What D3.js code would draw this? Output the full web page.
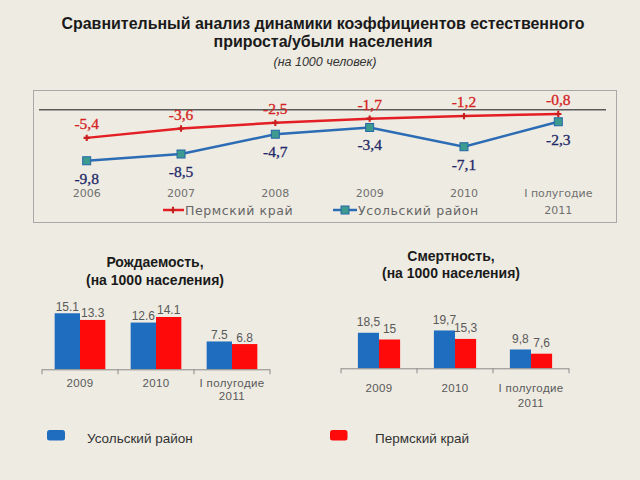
<!DOCTYPE html>
<html><head><meta charset="utf-8">
<script src="https://cdn.jsdelivr.net/npm/d3@7"></script>
<style>html,body{margin:0;padding:0;background:#EEEBE2;}svg{display:block;}</style>
</head><body>
<svg id="c" width="640" height="480"></svg>
<script>
// ---- data ----
const lineCats = ["2006","2007","2008","2009","2010","I полугодие|2011"];
const permLine = [-5.4,-3.6,-2.5,-1.7,-1.2,-0.8];
const usolLine = [-9.8,-8.5,-4.7,-3.4,-7.1,-2.3];
const lineLabelsPerm = ["-5,4","-3,6","-2,5","-1,7","-1,2","-0,8"];
const lineLabelsUsol = ["-9,8","-8,5","-4,7","-3,4","-7,1","-2,3"];

const barCats = ["2009","2010","I полугодие|2011"];
const birthUsol = [15.1,12.6,7.5];
const birthPerm = [13.3,14.1,6.8];
const birthLabelsUsol = ["15.1","12.6","7.5"];
const birthLabelsPerm = ["13.3","14.1","6.8"];
const deathUsol = [18.5,19.7,9.8];
const deathPerm = [15,15.3,7.6];
const deathLabelsUsol = ["18,5","19,7","9,8"];
const deathLabelsPerm = ["15","15,3","7,6"];
const seriesNames = ["Усольский район","Пермский край"];

const BLUE="#1E6DBE", RED="#FF0A0A";
const svg = d3.select("#c");

// ---- title ----
const tt = svg.append("g").attr("font-family","Liberation Sans, Arial, sans-serif").attr("text-anchor","middle");
tt.append("text").attr("x",323).attr("y",28.5).attr("font-size",16).attr("font-weight","bold").attr("fill","#1a1a1a")
  .attr("textLength",523).attr("lengthAdjust","spacingAndGlyphs")
  .text("Сравнительный анализ динамики коэффициентов естественного");
tt.append("text").attr("x",323).attr("y",46.5).attr("font-size",16).attr("font-weight","bold").attr("fill","#1a1a1a")
  .attr("textLength",219).attr("lengthAdjust","spacingAndGlyphs")
  .text("прироста/убыли населения");
tt.append("text").attr("x",325).attr("y",66).attr("font-size",12.5).attr("font-style","italic").attr("fill","#333")
  .text("(на 1000 человек)");

// ---- line chart ----
svg.append("rect").attr("x",33.5).attr("y",90.5).attr("width",583).attr("height",132)
  .attr("fill","none").attr("stroke","#A8A8A8").attr("stroke-width",1);
const xL = d3.scalePoint().domain(lineCats).range([86.7,558.3]);
const yL = d3.scaleLinear().domain([-10,0]).range([161.8,109.8]);
svg.append("line").attr("x1",39).attr("x2",606).attr("y1",yL(0)).attr("y2",yL(0))
  .attr("stroke","#5a5a5a").attr("stroke-width",1.5);

const lineGen = d3.line().x((d,i)=>xL(lineCats[i])).y(d=>yL(d));
svg.append("path").datum(permLine).attr("d",lineGen).attr("fill","none").attr("stroke","#E31E24").attr("stroke-width",2.5);
svg.append("path").datum(usolLine).attr("d",lineGen).attr("fill","none").attr("stroke","#2B6CB5").attr("stroke-width",2.5);

const cross = d3.symbol().type(d3.symbolCross).size(22);
svg.append("g").selectAll("path").data(permLine).join("path")
  .attr("d",cross).attr("transform",(d,i)=>`translate(${xL(lineCats[i])},${yL(d)})`).attr("fill","#C81E1E");
svg.append("g").selectAll("rect").data(usolLine).join("rect")
  .attr("x",(d,i)=>xL(lineCats[i])-4).attr("y",d=>yL(d)-4).attr("width",8).attr("height",8)
  .attr("fill","#3D9A8E").attr("stroke","#2467A8").attr("stroke-width",1);

const lblG = svg.append("g").attr("font-family","Liberation Serif, Times New Roman, serif").attr("font-size",15.5).attr("text-anchor","middle");
lblG.selectAll("text.p").data(permLine).join("text").attr("class","p")
  .attr("x",(d,i)=>xL(lineCats[i])).attr("y",d=>yL(d)-9).attr("fill","#D42323")
  .attr("stroke","#D42323").attr("stroke-width",0.3)
  .text((d,i)=>lineLabelsPerm[i]);
lblG.selectAll("text.u").data(usolLine).join("text").attr("class","u")
  .attr("x",(d,i)=>xL(lineCats[i])).attr("y",d=>yL(d)+23).attr("fill","#1F2868")
  .attr("stroke","#1F2868").attr("stroke-width",0.3)
  .text((d,i)=>lineLabelsUsol[i]);

const catG = svg.append("g").attr("font-family","DejaVu Sans, sans-serif").attr("font-size",11).attr("fill","#707070").attr("text-anchor","middle");
lineCats.forEach(c=>{
  const parts=c.split("|");
  parts.forEach((p,j)=>catG.append("text").attr("x",xL(c)).attr("y",197+j*17).text(p));
});

// legend of line chart
const lg = svg.append("g").attr("font-family","DejaVu Sans, sans-serif").attr("font-size",12.5).attr("fill","#666").attr("letter-spacing",0.6);
lg.append("line").attr("x1",163).attr("x2",184).attr("y1",210).attr("y2",210).attr("stroke","#E31E24").attr("stroke-width",2.5);
lg.append("path").attr("d",cross).attr("transform","translate(173,210)").attr("fill","#C81E1E");
lg.append("text").attr("x",185).attr("y",214.5).text(seriesNames[1]);
lg.append("line").attr("x1",333).attr("x2",357).attr("y1",210).attr("y2",210).attr("stroke","#2B6CB5").attr("stroke-width",2.5);
lg.append("rect").attr("x",341).attr("y",206).attr("width",8).attr("height",8).attr("fill","#3D9A8E").attr("stroke","#2467A8");
lg.append("text").attr("x",358).attr("y",214.5).text(seriesNames[0]);

// ---- bar charts ----
function barChart(opt){
  const g = svg.append("g");
  const x0 = d3.scaleBand().domain(barCats).range([opt.x0,opt.x1]).paddingInner(0).paddingOuter(0);
  const x1 = d3.scaleBand().domain([0,1]).range([0,x0.bandwidth()]).paddingInner(0).paddingOuter(opt.pad);
  const y = d3.scaleLinear().domain([0,20]).range([opt.base,opt.base-20*opt.k]);
  const data = [];
  barCats.forEach((c,i)=>{
    data.push({c,s:0,v:opt.u[i],l:opt.ul[i]});
    data.push({c,s:1,v:opt.p[i],l:opt.pl[i]});
  });
  g.selectAll("rect").data(data).join("rect")
    .attr("x",d=>x0(d.c)+x1(d.s)).attr("width",x1.bandwidth())
    .attr("y",d=>y(d.v)).attr("height",d=>y(0)-y(d.v))
    .attr("fill",d=>d.s?RED:BLUE);
  g.selectAll("text.v").data(data).join("text").attr("class","v")
    .attr("x",d=>x0(d.c)+x1(d.s)+x1.bandwidth()/2).attr("y",d=>y(d.v)-opt.lo)
    .attr("text-anchor","middle").attr("font-family","Liberation Sans, Arial, sans-serif")
    .attr("font-size",12).attr("fill","#595959").text(d=>d.l);
  // axis
  const ax = g.append("g").attr("transform",`translate(0,${opt.base})`)
    .call(d3.axisBottom(x0).tickSize(0).tickFormat(""));
  ax.select(".domain").attr("stroke","#8a8a8a").attr("d",`M${opt.x0},0.5H${opt.x1}`);
  const bounds = barCats.map(c=>x0(c)).concat([opt.x1]);
  g.selectAll("line.t").data(bounds).join("line").attr("class","t")
    .attr("x1",d=>d).attr("x2",d=>d).attr("y1",opt.base).attr("y2",opt.base+5).attr("stroke","#8a8a8a");
  const cg = g.append("g").attr("font-family","Liberation Sans, Arial, sans-serif").attr("font-size",11.5)
    .attr("fill","#595959").attr("text-anchor","middle").attr("letter-spacing",0.4);
  barCats.forEach(c=>{
    c.split("|").forEach((p,j)=>cg.append("text").attr("x",x0(c)+x0.bandwidth()/2).attr("y",opt.cy+j*opt.cdy).text(p));
  });
  const tg = g.append("g").attr("font-family","Liberation Sans, Arial, sans-serif").attr("font-size",14)
    .attr("font-weight","bold").attr("fill","#1a1a1a").attr("text-anchor","middle");
  opt.title.forEach((t,j)=>tg.append("text").attr("x",opt.tx).attr("y",opt.ty[j]).text(t));
}
barChart({x0:42,x1:270,base:369.3,k:3.71,pad:0.5,u:birthUsol,p:birthPerm,ul:birthLabelsUsol,pl:birthLabelsPerm,
  lo:2.5,cy:387,cdy:13,title:["Рождаемость,","(на 1000 населения)"],tx:155,ty:[267,285]});
barChart({x0:341,x1:569,base:368.3,k:1.92,pad:0.8,u:deathUsol,p:deathPerm,ul:deathLabelsUsol,pl:deathLabelsPerm,
  lo:6.5,cy:392,cdy:14.5,title:["Смертность,","(на 1000 населения)"],tx:451,ty:[261,278]});

// ---- bottom legend ----
const bl = svg.append("g").attr("font-family","Liberation Sans, Arial, sans-serif").attr("font-size",13.5).attr("fill","#333");
bl.append("rect").attr("x",47).attr("y",430).attr("width",18).attr("height",10.5).attr("rx",2.5).attr("fill",BLUE);
bl.append("text").attr("x",87).attr("y",442.5).text(seriesNames[0]);
bl.append("rect").attr("x",330).attr("y",430).attr("width",17.5).attr("height",10.5).attr("rx",2.5).attr("fill",RED);
bl.append("text").attr("x",375).attr("y",442.5).text(seriesNames[1]);
</script>
</body></html>
